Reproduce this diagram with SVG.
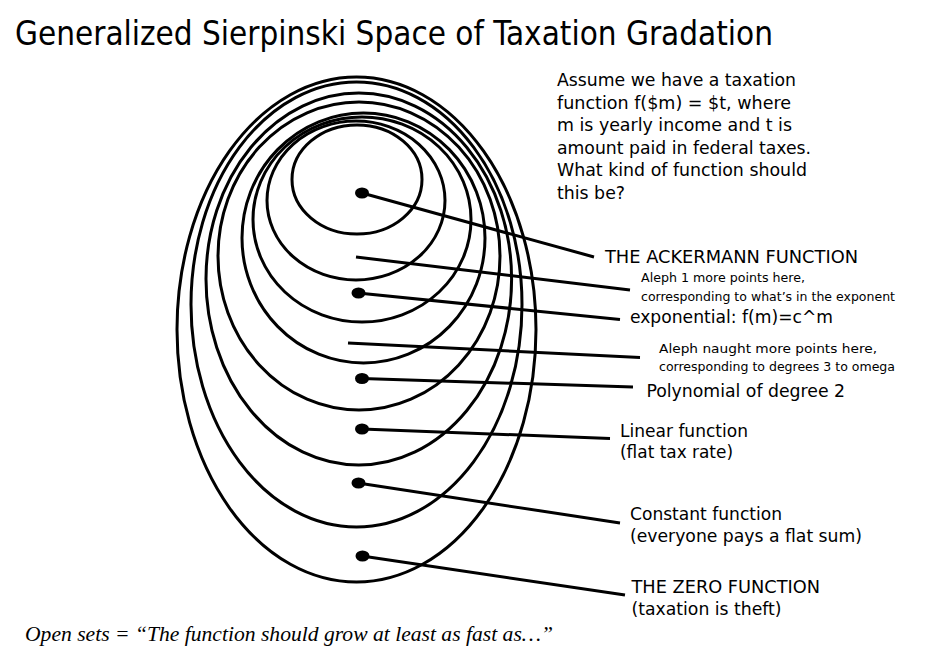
<svg xmlns="http://www.w3.org/2000/svg" width="928" height="657" viewBox="0 0 928 657">
<style>
.bg{fill:#ffffff}
.ring{fill:none;stroke:#000;stroke-width:3}
.conn{stroke:#000;stroke-width:3;stroke-linecap:butt;fill:none}
.dot{fill:#000}
.t{font-family:'DejaVu Sans Condensed','DejaVu Sans',sans-serif;fill:#000}
.big{font-size:18px}
.small{font-size:13px}
.title{font-size:33px}
.cap{font-family:'Liberation Serif','DejaVu Serif',serif;font-style:italic;font-size:20px;fill:#000}
</style>
<rect class="bg" x="0" y="0" width="928" height="657"/>
<g id="title"><text class="t title" x="15" y="45" textLength="758" lengthAdjust="spacingAndGlyphs">Generalized Sierpinski Space of Taxation Gradation</text></g>
<g id="rings">
<ellipse class="ring" cx="356.5" cy="329.5" rx="179.5" ry="252.5"/>
<ellipse class="ring" cx="356.5" cy="304.5" rx="165.5" ry="222.5"/>
<ellipse class="ring" cx="358.8" cy="279" rx="152.8" ry="186"/>
<ellipse class="ring" cx="359" cy="256" rx="141" ry="154"/>
<ellipse class="ring" cx="363.5" cy="238" rx="121.5" ry="125"/>
<ellipse class="ring" cx="362" cy="219.5" rx="109" ry="102.5"/>
<ellipse class="ring" cx="356" cy="200.5" rx="89" ry="79.5"/>
<ellipse class="ring" cx="357" cy="179.5" rx="65" ry="54.5"/>
</g>
<g id="connectors">
<line class="conn" x1="362" y1="193" x2="594" y2="257"/>
<line class="conn" x1="356" y1="257" x2="630" y2="290"/>
<line class="conn" x1="358" y1="293" x2="620" y2="319.5"/>
<line class="conn" x1="348" y1="343" x2="640" y2="357.5"/>
<line class="conn" x1="362" y1="378.5" x2="633" y2="387"/>
<line class="conn" x1="362" y1="429" x2="610" y2="438.5"/>
<line class="conn" x1="358" y1="483" x2="620" y2="523"/>
<line class="conn" x1="362" y1="556" x2="625" y2="595"/>
</g>
<g id="dots">
<ellipse class="dot" cx="362" cy="193" rx="7" ry="5.5"/>
<ellipse class="dot" cx="358.5" cy="293" rx="7" ry="5.5"/>
<ellipse class="dot" cx="362" cy="378.5" rx="7" ry="5.5"/>
<ellipse class="dot" cx="362" cy="429" rx="7" ry="5.5"/>
<ellipse class="dot" cx="358.5" cy="483" rx="7" ry="5.5"/>
<ellipse class="dot" cx="362.5" cy="556" rx="7" ry="5.5"/>
</g>
<g id="question">
<text class="t big" x="557" y="86" textLength="239" lengthAdjust="spacingAndGlyphs">Assume we have a taxation</text>
<text class="t big" x="557" y="108.5" textLength="234" lengthAdjust="spacingAndGlyphs">function f($m) = $t, where</text>
<text class="t big" x="557" y="131" textLength="235" lengthAdjust="spacingAndGlyphs">m is yearly income and t is</text>
<text class="t big" x="557" y="153.5" textLength="254" lengthAdjust="spacingAndGlyphs">amount paid in federal taxes.</text>
<text class="t big" x="557" y="176" textLength="250" lengthAdjust="spacingAndGlyphs">What kind of function should</text>
<text class="t big" x="557" y="198.5" textLength="68" lengthAdjust="spacingAndGlyphs">this be?</text>
</g>
<g id="label-ackermann"><text class="t big" x="605" y="262.7" textLength="253" lengthAdjust="spacingAndGlyphs">THE ACKERMANN FUNCTION</text></g>
<g id="label-aleph1">
<text class="t small" x="641" y="281.7" textLength="164" lengthAdjust="spacingAndGlyphs">Aleph 1 more points here,</text>
<text class="t small" x="641" y="301" textLength="254" lengthAdjust="spacingAndGlyphs">corresponding to what’s in the exponent</text>
</g>
<g id="label-exponential"><text class="t big" x="630" y="323.3" textLength="203" lengthAdjust="spacingAndGlyphs">exponential: f(m)=c^m</text></g>
<g id="label-aleph0">
<text class="t small" x="659" y="353.3" textLength="218" lengthAdjust="spacingAndGlyphs">Aleph naught more points here,</text>
<text class="t small" x="659" y="370.5" textLength="236" lengthAdjust="spacingAndGlyphs">corresponding to degrees 3 to omega</text>
</g>
<g id="label-poly"><text class="t big" x="646.5" y="396.7" textLength="198.5" lengthAdjust="spacingAndGlyphs">Polynomial of degree 2</text></g>
<g id="label-linear">
<text class="t big" x="620" y="436.7" textLength="128" lengthAdjust="spacingAndGlyphs">Linear function</text>
<text class="t big" x="620" y="458.3" textLength="113" lengthAdjust="spacingAndGlyphs">(flat tax rate)</text>
</g>
<g id="label-constant">
<text class="t big" x="630" y="520" textLength="152" lengthAdjust="spacingAndGlyphs">Constant function</text>
<text class="t big" x="630" y="541.7" textLength="232" lengthAdjust="spacingAndGlyphs">(everyone pays a flat sum)</text>
</g>
<g id="label-zero">
<text class="t big" x="631.5" y="593.3" textLength="188.5" lengthAdjust="spacingAndGlyphs">THE ZERO FUNCTION</text>
<text class="t big" x="631.5" y="615" textLength="150" lengthAdjust="spacingAndGlyphs">(taxation is theft)</text>
</g>
<g id="caption"><text class="cap" x="25" y="641" textLength="528" lengthAdjust="spacingAndGlyphs">Open sets = “The function should grow at least as fast as…”</text></g>
</svg>
